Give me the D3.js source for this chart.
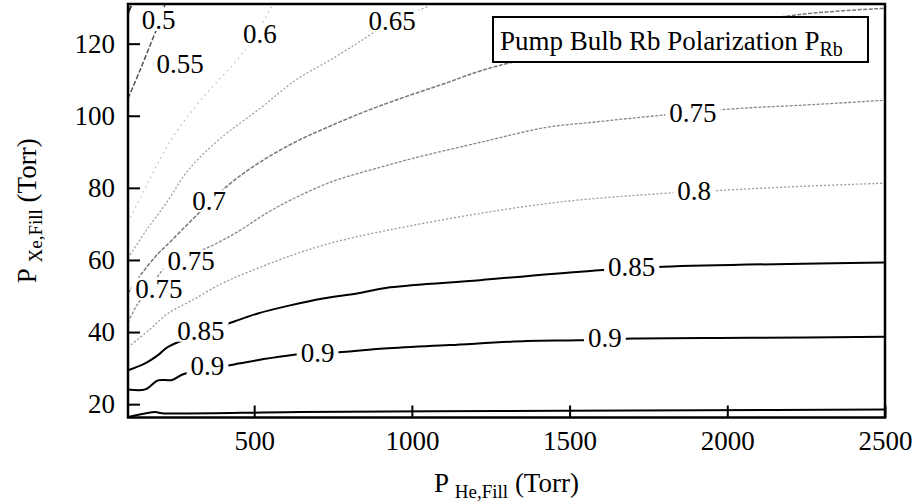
<!DOCTYPE html>
<html>
<head>
<meta charset="utf-8">
<script src="https://cdn.jsdelivr.net/npm/d3@7"></script>
<style>
  body { margin: 0; background: #fff; }
  text { font-family: "Liberation Serif", "Times New Roman", serif; fill: #000; }
</style>
</head>
<body>
<div id="chart"></div>
<script>
// Set up dimensions
const width = 914;
const height = 504;

// Axis ticks
const xTicks = [500, 1000, 1500, 2000, 2500];
const yTicks = [20, 40, 60, 80, 100, 120];

// Contour lines, [P_He, P_Xe] in Torr
const line050 = [[100, 128.4], [110, 130.5]];
const line055 = [[100, 104.8], [138, 112.6], [179, 121.5], [200, 126], [217, 130.9]];
const line060 = [[100, 70.5], [159, 80.7], [217, 90.4], [260, 96.4], [344, 105.7], [445, 115.4], [503, 122.3], [557, 130.6]];
const line065 = [[100, 60.5], [154, 67.7], [223, 76.0], [291, 84.9], [386, 93.2], [524, 102.4], [630, 109.8], [740, 115.4], [841, 120.9], [931, 125.9], [1051, 130.3]];
const line070 = [[100, 50.8], [143, 56.2], [196, 61.8], [223, 64.1], [312, 71.9], [417, 80.7], [518, 87.1], [630, 92.7], [740, 97.1], [888, 102.4], [1089, 108.5], [1280, 114], [1755, 121.5], [2231, 128.1], [2500, 129.8]];
const line075 = [[100, 42.7], [128, 47.4], [170, 52.4], [217, 57.7], [297, 61.3], [376, 64.4], [455, 68.2], [518, 71.8], [582, 75.1], [740, 81.5], [899, 85.7], [1004, 88.2], [1216, 92.6], [1428, 96.8], [1574, 98.2], [1787, 100.1], [2031, 102.0], [2231, 102.9], [2500, 104.3]];
const line080 = [[100, 35.8], [170, 40.8], [227, 45.2], [303, 48.8], [398, 53.5], [480, 56.6], [620, 61.3], [740, 64.6], [921, 68.2], [1216, 72.9], [1470, 76.1], [1787, 78.4], [1977, 79.3], [2231, 80.4], [2500, 81.3]];
const line085 = [[100, 29.4], [154, 31.3], [195, 33.6], [227, 35.9], [439, 43.0], [509, 45.1], [614, 47.4], [718, 49.3], [826, 50.7], [931, 52.4], [1216, 54.4], [1574, 57.0], [1796, 58.1], [2500, 59.3]];
const line090 = [[100, 24.1], [155, 24.1], [195, 26.6], [240, 26.7], [275, 28.3], [440, 31.1], [510, 32.2], [615, 33.6], [780, 34.5], [900, 35.4], [1120, 36.4], [1365, 37.5], [1525, 37.7], [1700, 38.2], [2070, 38.4], [2500, 38.7]];
const lineBase = [[100, 16.4], [154, 17.4], [186, 17.8], [208, 17.5], [645, 17.8], [1280, 18.1], [1914, 18.3], [2500, 18.5]];

// Inline contour labels
const labelText = ['0.5', '0.55', '0.6', '0.65', '0.7', '0.75', '0.75', '0.85', '0.9', '0.9', '0.9', '0.85', '0.8', '0.75'];
const labelX = [197, 265, 518, 937, 357, 300, 198, 331, 352, 701, 1612, 1697, 1895, 1891];
const labelY = [126.7, 114.5, 122.7, 126.5, 76.6, 59.9, 52.2, 40.5, 30.8, 34.3, 38.4, 58.1, 79.3, 100.8];

// Line styles per contour
const contours = [
  { pts: lineBase, color: '#000', w: 2, dash: null },
  { pts: line090, color: '#000', w: 2, dash: null },
  { pts: line085, color: '#000', w: 2, dash: null },
  { pts: line080, color: '#999', w: 1.3, dash: '2,2' },
  { pts: line075, color: '#888', w: 1.3, dash: '3,1.5' },
  { pts: line070, color: '#777', w: 1.5, dash: '4,1.5' },
  { pts: line065, color: '#999', w: 1.2, dash: '2,2' },
  { pts: line060, color: '#bbb', w: 1.2, dash: '1.5,4' },
  { pts: line055, color: '#555', w: 1.5, dash: '5,2' },
  { pts: line050, color: '#333', w: 2, dash: null }
];

const serif = '"Liberation Serif", "Times New Roman", serif';
const plotLeft = 128, plotRight = 885, plotTop = 4, plotBottom = 417.5;

const x = d3.scaleLinear().domain([100, 2500]).range([plotLeft, plotRight]);
const y = d3.scaleLinear().domain([16.3, 131]).range([plotBottom, plotTop]);

const svg = d3.select('#chart')
    .append('svg')
    .attr('width', width)
    .attr('height', height)
    .attr('font-family', serif);

svg.append('clipPath')
    .attr('id', 'plot')
    .append('rect')
    .attr('x', plotLeft).attr('y', plotTop)
    .attr('width', plotRight - plotLeft).attr('height', plotBottom - plotTop);

// Draw contours
const line = d3.line()
    .x(d => x(d[0]))
    .y(d => y(d[1]))
    .curve(d3.curveCatmullRom.alpha(0.5));

svg.append('g')
    .attr('clip-path', 'url(#plot)')
    .selectAll('path')
    .data(contours)
    .join('path')
    .attr('d', d => line(d.pts))
    .attr('fill', 'none')
    .attr('stroke', d => d.color)
    .attr('stroke-width', d => d.w)
    .attr('stroke-dasharray', d => d.dash);

// Contour labels with white backing
const labels = svg.append('g')
    .selectAll('g')
    .data(labelText.map((t, i) => ({ t: t, x: labelX[i], y: labelY[i] })))
    .join('g');

labels.append('text')
    .attr('x', d => x(d.x))
    .attr('y', d => y(d.y))
    .attr('dy', '0.35em')
    .attr('text-anchor', 'middle')
    .attr('font-size', 27)
    .text(d => d.t);

labels.each(function() {
    const g = d3.select(this);
    const b = g.select('text').node().getBBox();
    g.insert('rect', 'text')
        .attr('x', b.x - 4).attr('y', b.y + 4)
        .attr('width', b.width + 8).attr('height', b.height - 8)
        .attr('fill', '#fff');
});

// Axes (ticks point inward)
const xAxis = svg.append('g')
    .attr('transform', `translate(0,${plotBottom})`)
    .call(d3.axisBottom(x).tickValues(xTicks).tickFormat(d3.format('d'))
        .tickSizeInner(-12).tickSizeOuter(0).tickPadding(13));
const yAxis = svg.append('g')
    .attr('transform', `translate(${plotLeft},0)`)
    .call(d3.axisLeft(y).tickValues(yTicks).tickFormat(d3.format('d'))
        .tickSizeInner(-12).tickSizeOuter(0).tickPadding(13));

[xAxis, yAxis].forEach(a => {
    a.attr('font-family', serif).attr('font-size', 27);
    a.select('.domain').remove();
    a.selectAll('line').attr('stroke', '#000').attr('stroke-width', 2);
});

// Frame
svg.append('rect')
    .attr('x', plotLeft).attr('y', plotTop)
    .attr('width', plotRight - plotLeft).attr('height', plotBottom - plotTop)
    .attr('fill', 'none')
    .attr('stroke', '#000')
    .attr('stroke-width', 2.5);

// Legend box
svg.append('rect')
    .attr('x', 493).attr('y', 17)
    .attr('width', 375).attr('height', 45)
    .attr('fill', '#fff')
    .attr('stroke', '#000')
    .attr('stroke-width', 2);

const legend = svg.append('text')
    .attr('x', 500).attr('y', 50)
    .attr('font-size', 27);
legend.append('tspan').text('Pump Bulb Rb Polarization P');
legend.append('tspan').attr('font-size', 20).attr('dy', 6).text('Rb');

// Axis titles
const xTitle = svg.append('text')
    .attr('x', (plotLeft + plotRight) / 2).attr('y', 492)
    .attr('text-anchor', 'middle')
    .attr('font-size', 27);
xTitle.append('tspan').text('P ');
xTitle.append('tspan').attr('font-size', 19).attr('dy', 6).text('He,Fill');
xTitle.append('tspan').attr('dy', -6).text(' (Torr)');

const yTitle = svg.append('text')
    .attr('transform', `translate(36,${(plotTop + plotBottom) / 2}) rotate(-90)`)
    .attr('text-anchor', 'middle')
    .attr('font-size', 27);
yTitle.append('tspan').text('P ');
yTitle.append('tspan').attr('font-size', 19).attr('dy', 6).text('Xe,Fill');
yTitle.append('tspan').attr('dy', -6).text(' (Torr)');
</script>
</body>
</html>
